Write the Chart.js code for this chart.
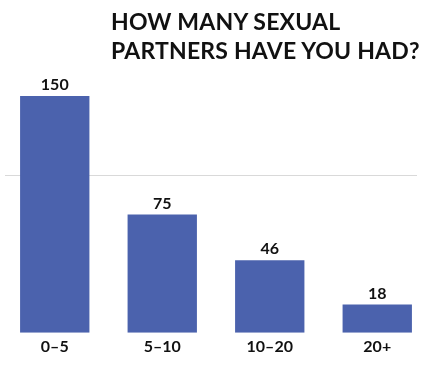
<!DOCTYPE html>
<html>
<head>
<meta charset="utf-8">
<script src="https://cdn.jsdelivr.net/npm/chart.js@4"></script>
<style>
  html, body { margin:0; padding:0; background:#fff; overflow:hidden; }
  #wrap { position:relative; width:427px; height:370px; overflow:hidden; }
  #title {
    position:absolute; left:111px; top:7px;
    font-family:Lato, sans-serif; font-weight:700; font-size:23px;
    line-height:29px; color:#111; letter-spacing:0.2px;
  }
  canvas { position:absolute; left:0; top:0; }
</style>
</head>
<body>
<div id="wrap">
  <canvas id="chart" width="431" height="370"></canvas>
  <div id="title">HOW MANY SEXUAL<br>PARTNERS HAVE YOU HAD?</div>
</div>
<script>
// Bar chart: number of partners

const categories = ['0–5', '5–10', '10–20', '20+'];
const counts     = [150, 75, 46, 18];
const gridValues = [100];

const barColor = '#4b62ad';

// one light reference line, drawn behind the bars
const refLines = {
  id: 'refLines',
  beforeDatasetsDraw(chart) {
    const { ctx, chartArea, scales } = chart;
    ctx.save();
    ctx.strokeStyle = '#d9d9d9';
    ctx.lineWidth = 1;
    gridValues.forEach(v => {
      const y = Math.round(scales.y.getPixelForValue(v)) + 0.5;
      ctx.beginPath();
      ctx.moveTo(chartArea.left + 4, y);
      ctx.lineTo(chartArea.right - 14, y);
      ctx.stroke();
    });
    ctx.restore();
  }
};

// value above each bar
const valueLabels = {
  id: 'valueLabels',
  afterDatasetsDraw(chart) {
    const { ctx } = chart;
    const meta = chart.getDatasetMeta(0);
    ctx.save();
    ctx.fillStyle = '#111';
    ctx.font = '700 16px Lato, sans-serif';
    ctx.textAlign = 'center';
    ctx.textBaseline = 'bottom';
    meta.data.forEach((bar, i) => {
      ctx.fillText(String(counts[i]), bar.x, bar.y - 3);
    });
    ctx.restore();
  }
};

new Chart(document.getElementById('chart'), {
  type: 'bar',
  data: {
    labels: categories,
    datasets: [{
      data: counts,
      backgroundColor: barColor,
      borderWidth: 0,
      barPercentage: 0.645,
      categoryPercentage: 1,
    }]
  },
  options: {
    responsive: false,
    animation: false,
    layout: { padding: { top: 96, left: 1, right: 0, bottom: 10 } },
    plugins: {
      legend: { display: false },
      tooltip: { enabled: false },
    },
    scales: {
      x: {
        grid: { display: false, drawTicks: false },
        border: { display: false },
        ticks: {
          color: '#111',
          padding: 4,
          font: { family: 'Lato, sans-serif', size: 16, weight: '700' },
        }
      },
      y: {
        display: false,
        min: 0,
        max: 150,
      }
    }
  },
  plugins: [refLines, valueLabels]
});
</script>
</body>
</html>
